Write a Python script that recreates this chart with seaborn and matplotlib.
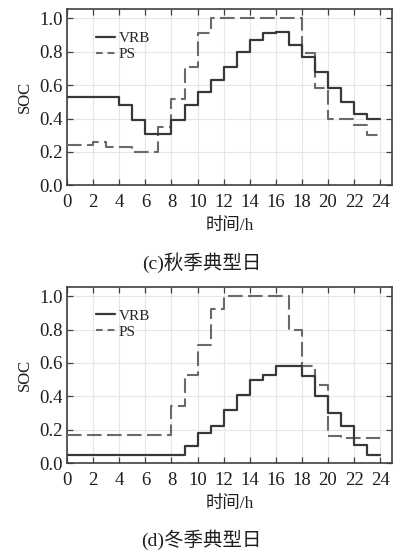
import numpy as np
import pandas as pd
import matplotlib
matplotlib.use("Agg")
import matplotlib.pyplot as plt
from matplotlib.lines import Line2D
import seaborn as sns

# Hourly state of charge, one value per hour starting at 0 h
hours = list(range(25))

autumn_vrb = [0.53, 0.53, 0.53, 0.53, 0.48, 0.39, 0.31, 0.31, 0.39, 0.48,
              0.56, 0.63, 0.71, 0.80, 0.87, 0.91, 0.92, 0.84, 0.77, 0.68,
              0.58, 0.50, 0.43, 0.40]
autumn_ps = [0.24, 0.24, 0.26, 0.23, 0.23, 0.20, 0.20, 0.35, 0.52, 0.71,
             0.91, 1.00, 1.00, 1.00, 1.00, 1.00, 1.00, 1.00, 0.79, 0.58,
             0.40, 0.40, 0.36, 0.30]

winter_vrb = [0.05, 0.05, 0.05, 0.05, 0.05, 0.05, 0.05, 0.05, 0.05, 0.10,
              0.18, 0.22, 0.32, 0.41, 0.50, 0.53, 0.58, 0.58, 0.52, 0.40,
              0.30, 0.22, 0.11, 0.05]
winter_ps = [0.17, 0.17, 0.17, 0.17, 0.17, 0.17, 0.17, 0.17, 0.34, 0.53,
             0.71, 0.92, 1.00, 1.00, 1.00, 1.00, 1.00, 0.80, 0.58, 0.47,
             0.16, 0.15, 0.15, 0.15]

series_names = ["VRB", "PS"]
panel_titles = ["(c)秋季典型日", "(d)冬季典型日"]
x_ticks = list(range(0, 25, 2))
y_ticks = [0.0, 0.2, 0.4, 0.6, 0.8, 1.0]

sns.set_style("ticks")
plt.rcParams["font.family"] = ["Liberation Serif", "Noto Sans CJK SC"]
plt.rcParams["axes.unicode_minus"] = False

VRB_COLOR = "#383838"
PS_COLOR = "#6a6a6a"
FRAME = "#404040"
TEXT = "#1e1e1e"
PS_DASH = (7, 2.6)

fig = plt.figure(figsize=(3.95, 5.5), dpi=100)
ax_top = fig.add_axes([0.170, 0.663, 0.822, 0.320])
ax_bot = fig.add_axes([0.170, 0.158, 0.822, 0.320])


def stair_frame(values):
    # repeat the last hour so the step reaches 24 h
    return pd.DataFrame({"h": hours, "soc": list(values) + [values[-1]]})


def draw_panel(ax, vrb, ps, title, title_y):
    sns.lineplot(data=stair_frame(vrb), x="h", y="soc", ax=ax,
                 drawstyle="steps-post", color=VRB_COLOR, linewidth=1.6,
                 zorder=4)
    sns.lineplot(data=stair_frame(ps), x="h", y="soc", ax=ax,
                 drawstyle="steps-post", color=PS_COLOR, linewidth=1.5,
                 dashes=PS_DASH, zorder=3)
    ax.set_xlim(0, 24.9)
    ax.set_ylim(0, 1.054)
    ax.set_xticks(x_ticks)
    ax.set_yticks(y_ticks)
    ax.set_xticklabels([str(t) for t in x_ticks])
    ax.set_yticklabels([f"{t:.1f}" for t in y_ticks])
    ax.grid(True, color="#e6e6e6", linewidth=0.8)
    ax.set_axisbelow(True)
    ax.tick_params(direction="in", length=4, width=0.9, color=FRAME,
                   top=True, right=True, labelsize=13.5, pad=3,
                   labelcolor=TEXT)
    ax.tick_params(axis="x", pad=6.5)
    for sp in ax.spines.values():
        sp.set_color(FRAME)
        sp.set_linewidth(1.2)
    ax.set_xlabel("时间/h", fontsize=12.5, labelpad=5, color=TEXT)
    ax.set_ylabel("SOC", fontsize=12, labelpad=5, color=TEXT)
    handles = [Line2D([], [], color=VRB_COLOR, linewidth=1.6),
               Line2D([], [], color=PS_COLOR, linewidth=1.5,
                      dashes=(3.2, 2.4))]
    ax.legend(handles, series_names, loc="upper left",
              bbox_to_anchor=(0.09, 0.875), frameon=False, fontsize=11,
              handlelength=1.2, handletextpad=0.25, labelspacing=0.15,
              borderaxespad=0.0, borderpad=0.0)
    fig.text(0.51, title_y, title, ha="center", va="center",
             fontsize=14, color=TEXT)


draw_panel(ax_top, autumn_vrb, autumn_ps, panel_titles[0], 0.522)
draw_panel(ax_bot, winter_vrb, winter_ps, panel_titles[1], 0.018)

fig.savefig("out.png", dpi=100, facecolor="white")
